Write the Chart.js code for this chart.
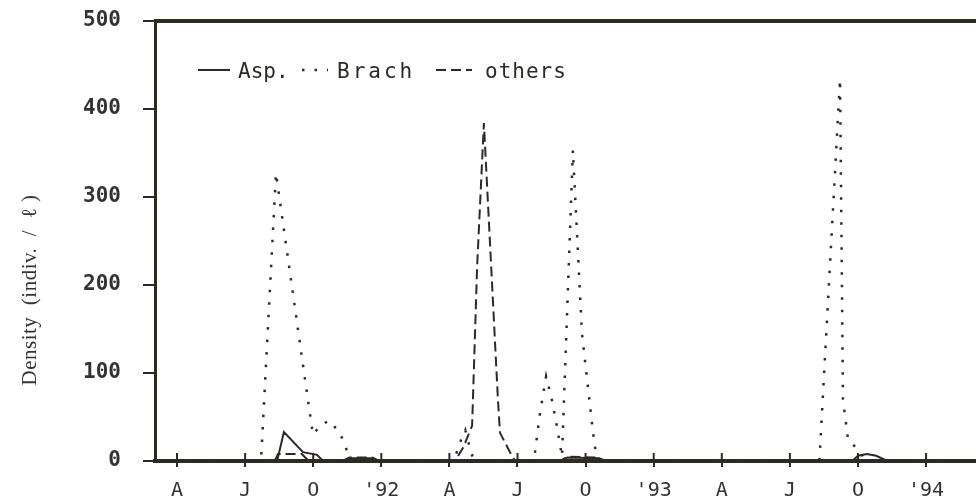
<!DOCTYPE html>
<html>
<head>
<meta charset="utf-8">
<script src="https://cdn.jsdelivr.net/npm/chart.js@4/dist/chart.umd.min.js"></script>
<style>
  html, body { margin: 0; padding: 0; background: #fff; }
  #wrap { width: 976px; height: 502px; }
</style>
</head>
<body>
<div id="wrap"><canvas id="densityChart" width="976" height="502"></canvas></div>
<script>
// months counted from Jan 1991 (0 = Jan '91, 12 = Jan '92, ...)
const tickMonths = [3, 6, 9, 12, 15, 18, 21, 24, 27, 30, 33, 36];
const tickLabels = ['A', 'J', 'O', "'92", 'A', 'J', 'O', "'93", 'A', 'J', 'O', "'94"];

const aspMonths = [2.03, 7.41, 7.71, 8.55, 9.17, 9.43, 10.3, 10.6, 11.6, 11.9, 19.9, 20.2, 21.6, 21.9, 32.75, 33.0, 33.4, 33.8, 34.3, 38.2];
const aspValues = [0, 0, 33, 10, 7, 0, 0, 3, 3, 0, 0, 4, 3, 0, 0, 6, 8, 6, 0, 0];

const brachMonths = [2.03, 6.7, 7.36, 8.77, 8.99, 9.3, 9.7, 10.18, 10.44, 10.65, 15.2, 15.45, 15.7, 15.95, 16.1,
  18.72, 18.99, 19.26, 19.52, 19.74, 19.96, 20.44, 20.84, 21.33, 21.5, 31.3, 32.21, 32.34, 32.56, 33.09, 33.35, 38.2];
const brachValues = [0, 0, 327, 69, 30, 40, 46, 32, 15, 0, 0, 20, 35, 10, 0,
  0, 54, 96, 69, 39, 5, 353, 145, 32, 0, 0, 434, 70, 25, 10, 0, 0];

const othersMonths = [2.03, 7.3, 7.45, 8.5, 8.8, 10.3, 10.6, 11.6, 11.9, 15.25, 15.6, 16.0, 16.22, 16.52, 17.14, 17.23, 17.67, 17.9, 19.9, 20.2, 21.4, 21.7, 38.2];
const othersValues = [0, 0, 8, 8, 0, 0, 4, 4, 0, 0, 15, 40, 220, 384, 69, 32, 10, 0, 0, 5, 4, 0, 0];

const INK  = '#2a2a26';
const AXIS = '#2f2a20';
const MONO = '"DejaVu Sans Mono", monospace';

const toPoints = (xs, ys) => xs.map((x, i) => ({ x, y: ys[i] }));

// legend drawn inside the plot, like the original plotter output
const LEGEND = [
  { idx: 0, x0: 198, x1: 230, tx: 238, spacing: 0 },
  { idx: 1, x0: 302, x1: 328, tx: 337, spacing: 3 },
  { idx: 2, x0: 436, x1: 472, tx: 485, spacing: 1 },
];

const decor = {
  id: 'decor',
  afterDraw(chart) {
    const { ctx, chartArea: a, scales } = chart;
    ctx.save();

    // top frame line
    ctx.strokeStyle = AXIS;
    ctx.lineWidth = 4;
    ctx.beginPath();
    ctx.moveTo(a.left - 1, a.top);
    ctx.lineTo(a.right, a.top);
    ctx.stroke();

    // x ticks also poke into the plot
    ctx.lineWidth = 2;
    for (const m of tickMonths) {
      const px = scales.x.getPixelForValue(m);
      ctx.beginPath();
      ctx.moveTo(px, a.bottom - 8);
      ctx.lineTo(px, a.bottom);
      ctx.stroke();
    }

    // legend
    ctx.fillStyle = INK;
    ctx.font = '21px ' + MONO;
    ctx.textBaseline = 'middle';
    for (const it of LEGEND) {
      const ds = chart.data.datasets[it.idx];
      ctx.strokeStyle = INK;
      ctx.lineWidth = ds.borderWidth;
      ctx.setLineDash(ds.borderDash || []);
      ctx.beginPath();
      ctx.moveTo(it.x0, 70);
      ctx.lineTo(it.x1, 70);
      ctx.stroke();
      ctx.setLineDash([]);
      ctx.letterSpacing = it.spacing + 'px';
      ctx.fillText(ds.label, it.tx, 73);
    }
    ctx.letterSpacing = '0px';

    // y axis title
    ctx.translate(30, 290);
    ctx.rotate(-Math.PI / 2);
    ctx.textAlign = 'center';
    ctx.font = '21px "Liberation Serif", serif';
    ctx.fillStyle = '#333';
    ctx.letterSpacing = '0.5px';
    ctx.fillText('Density  (indiv.  /  ℓ )', 0, 0);
    ctx.restore();
  },
};

new Chart(document.getElementById('densityChart'), {
  type: 'line',
  data: {
    datasets: [
      { label: 'Asp.',   data: toPoints(aspMonths, aspValues),     borderColor: INK, borderWidth: 2 },
      { label: 'Brach',  data: toPoints(brachMonths, brachValues), borderColor: INK, borderWidth: 2.5, borderDash: [2.5, 10] },
      { label: 'others', data: toPoints(othersMonths, othersValues), borderColor: INK, borderWidth: 2, borderDash: [10, 5] },
    ],
  },
  options: {
    responsive: false,
    animation: false,
    parsing: false,
    elements: { point: { radius: 0 }, line: { tension: 0, fill: false } },
    layout: { padding: { top: 21, right: 0, bottom: 0, left: 0 } },
    plugins: { legend: { display: false }, tooltip: { enabled: false }, title: { display: false } },
    scales: {
      x: {
        type: 'linear',
        min: 2.03,
        max: 38.2,
        afterBuildTicks: s => { s.ticks = tickMonths.map(v => ({ value: v })); },
        afterFit: s => { s.height = 41; s.paddingLeft = 0; s.paddingRight = 0; },
        border: { display: true, color: AXIS, width: 4 },
        grid: { display: true, drawOnChartArea: false, drawTicks: true, tickLength: 6, color: AXIS, lineWidth: 2 },
        ticks: {
          autoSkip: false,
          maxRotation: 0,
          padding: 12,
          color: '#333',
          font: { family: MONO, size: 20 },
          callback: v => tickLabels[tickMonths.indexOf(v)] ?? '',
        },
      },
      y: {
        min: 0,
        max: 500,
        afterFit: s => { s.width = 155; s.paddingTop = 0; s.paddingBottom = 0; },
        border: { display: true, color: AXIS, width: 3 },
        grid: { display: true, drawOnChartArea: false, drawTicks: true, tickLength: 12, color: AXIS, lineWidth: 2 },
        ticks: {
          stepSize: 100,
          padding: 22,
          color: '#333',
          font: { family: MONO, size: 21, weight: 'bold' },
        },
      },
    },
  },
  plugins: [decor],
});
</script>
</body>
</html>
